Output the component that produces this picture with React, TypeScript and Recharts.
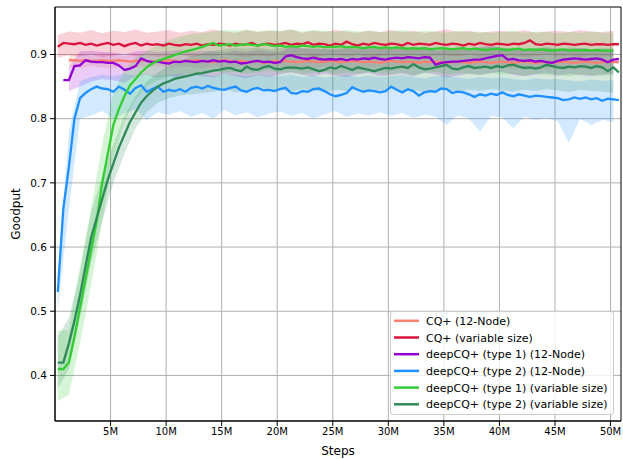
import React from 'react';
import {
  ComposedChart, Line, Area, XAxis, YAxis, CartesianGrid, Legend, ReferenceArea,
} from 'recharts';

// x positions (millions of steps)
const LINE_STEPS = [
  0.25, 0.75, 1.25, 1.75, 2.25, 2.75, 3.25, 3.75, 4.25, 4.75,
  5.25, 5.75, 6.25, 6.75, 7.25, 7.75, 8.25, 8.75, 9.25, 9.75,
  10.25, 10.75, 11.25, 11.75, 12.25, 12.75, 13.25, 13.75, 14.25, 14.75,
  15.25, 15.75, 16.25, 16.75, 17.25, 17.75, 18.25, 18.75, 19.25, 19.75,
  20.25, 20.75, 21.25, 21.75, 22.25, 22.75, 23.25, 23.75, 24.25, 24.75,
  25.25, 25.75, 26.25, 26.75, 27.25, 27.75, 28.25, 28.75, 29.25, 29.75,
  30.25, 30.75, 31.25, 31.75, 32.25, 32.75, 33.25, 33.75, 34.25, 34.75,
  35.25, 35.75, 36.25, 36.75, 37.25, 37.75, 38.25, 38.75, 39.25, 39.75,
  40.25, 40.75, 41.25, 41.75, 42.25, 42.75, 43.25, 43.75, 44.25, 44.75,
  45.25, 45.75, 46.25, 46.75, 47.25, 47.75, 48.25, 48.75, 49.25, 49.75,
  50.25, 50.75,
];

const BAND_STEPS = [
  0.25, 1.25, 2.25, 3.25, 4.25, 5.25, 6.25, 7.25, 8.25, 9.25,
  10.25, 11.25, 12.25, 13.25, 14.25, 15.25, 16.25, 17.25, 18.25, 19.25,
  20.25, 21.25, 22.25, 23.25, 24.25, 25.25, 26.25, 27.25, 28.25, 29.25,
  30.25, 31.25, 32.25, 33.25, 34.25, 35.25, 36.25, 37.25, 38.25, 39.25,
  40.25, 41.25, 42.25, 43.25, 44.25, 45.25, 46.25, 47.25, 48.25, 49.25,
  50.25,
];

const X_TICKS = [5, 10, 15, 20, 25, 30, 35, 40, 45, 50];
const Y_TICKS = [0.4, 0.5, 0.6, 0.7, 0.8, 0.9];

// mean curves
const CQ_NODE = [
  null, null, 0.891, 0.891, 0.890, 0.891, 0.890, 0.890, 0.891, 0.890,
  0.890, 0.891, 0.890, 0.889, 0.890, 0.891, 0.890, 0.889, 0.890, 0.890,
  0.891, 0.890, 0.889, 0.890, 0.890, 0.891, 0.890, 0.889, 0.888, 0.890,
  0.891, 0.890, 0.889, 0.890, 0.888, 0.889, 0.890, 0.887, 0.888, 0.890,
  0.889, 0.890, 0.889, 0.888, 0.889, 0.890, 0.889, 0.888, 0.889, 0.890,
  0.889, 0.888, 0.889, 0.890, 0.889, 0.888, 0.889, 0.888, 0.887, 0.889,
  0.890, 0.889, 0.888, 0.889, 0.888, 0.887, 0.889, 0.888, 0.889, 0.888,
  0.887, 0.888, 0.889, 0.888, 0.887, 0.888, 0.889, 0.888, 0.887, 0.888,
  0.889, 0.888, 0.887, 0.888, 0.889, 0.888, 0.887, 0.888, 0.888, 0.887,
  0.888, 0.889, 0.888, 0.887, 0.888, 0.889, 0.888, 0.887, 0.888, 0.889,
  0.888, 0.888,
];

const CQ_VAR = [
  0.912, 0.918, 0.917, 0.916, 0.918, 0.915, 0.917, 0.914, 0.916, 0.918,
  0.915, 0.917, 0.913, 0.916, 0.918, 0.914, 0.917, 0.915, 0.916, 0.914,
  0.917, 0.915, 0.914, 0.916, 0.915, 0.917, 0.914, 0.916, 0.915, 0.917,
  0.916, 0.914, 0.917, 0.915, 0.916, 0.918, 0.914, 0.916, 0.917, 0.915,
  0.916, 0.918, 0.915, 0.917, 0.916, 0.919, 0.915, 0.917, 0.916, 0.914,
  0.917, 0.915, 0.920, 0.916, 0.914, 0.917, 0.915, 0.918, 0.916, 0.915,
  0.917, 0.916, 0.914, 0.918, 0.915, 0.917, 0.916, 0.915, 0.918, 0.916,
  0.915, 0.917, 0.916, 0.914, 0.917, 0.915, 0.918, 0.916, 0.915, 0.917,
  0.916, 0.915, 0.917, 0.916, 0.918, 0.922, 0.916, 0.915, 0.917, 0.916,
  0.915, 0.917, 0.916, 0.915, 0.916, 0.917, 0.915, 0.916, 0.916, 0.915,
  0.916, 0.916,
];

const DEEP_T1_NODE = [
  null, 0.860, 0.860, 0.882, 0.883, 0.891, 0.889, 0.888, 0.888, 0.887,
  0.887, 0.883, 0.876, 0.878, 0.882, 0.894, 0.890, 0.888, 0.889, 0.887,
  0.886, 0.889, 0.888, 0.890, 0.889, 0.888, 0.890, 0.889, 0.891, 0.889,
  0.890, 0.888, 0.889, 0.886, 0.887, 0.889, 0.890, 0.888, 0.889, 0.887,
  0.888, 0.897, 0.899, 0.896, 0.894, 0.893, 0.895, 0.893, 0.892, 0.893,
  0.892, 0.893, 0.891, 0.893, 0.892, 0.894, 0.893, 0.895, 0.893, 0.892,
  0.894, 0.895, 0.894, 0.896, 0.895, 0.894, 0.896, 0.895, 0.884, 0.887,
  0.888, 0.889, 0.889, 0.890, 0.891, 0.892, 0.892, 0.894, 0.896, 0.898,
  0.899, 0.892, 0.893, 0.891, 0.890, 0.891, 0.889, 0.890, 0.888, 0.887,
  0.890, 0.892, 0.893, 0.894, 0.893, 0.892, 0.893, 0.894, 0.892, 0.888,
  0.892, 0.893,
];

const DEEP_T2_NODE = [
  0.530, 0.660, 0.725, 0.800, 0.832, 0.840, 0.846, 0.850, 0.847, 0.846,
  0.842, 0.850, 0.845, 0.839, 0.848, 0.852, 0.842, 0.846, 0.850, 0.842,
  0.845, 0.843, 0.846, 0.842, 0.848, 0.850, 0.847, 0.851, 0.848, 0.846,
  0.845, 0.848, 0.850, 0.844, 0.842, 0.846, 0.848, 0.844, 0.845, 0.843,
  0.846, 0.848, 0.840, 0.839, 0.843, 0.842, 0.846, 0.847, 0.843, 0.838,
  0.835, 0.837, 0.840, 0.849, 0.845, 0.842, 0.844, 0.843, 0.841, 0.843,
  0.850, 0.845, 0.841, 0.846, 0.843, 0.836, 0.841, 0.843, 0.842, 0.847,
  0.846, 0.840, 0.842, 0.841, 0.838, 0.834, 0.838, 0.836, 0.839, 0.837,
  0.841, 0.837, 0.835, 0.838, 0.836, 0.834, 0.836, 0.835, 0.834, 0.833,
  0.832, 0.829, 0.830, 0.833, 0.831, 0.833, 0.830, 0.832, 0.828, 0.831,
  0.830, 0.829,
];

const DEEP_T1_VAR = [
  0.410, 0.410, 0.420, 0.460, 0.505, 0.550, 0.595, 0.640, 0.700, 0.745,
  0.790, 0.815, 0.835, 0.852, 0.862, 0.872, 0.880, 0.886, 0.890, 0.893,
  0.896, 0.899, 0.902, 0.905, 0.907, 0.909, 0.912, 0.915, 0.918, 0.914,
  0.915, 0.916, 0.914, 0.915, 0.916, 0.915, 0.914, 0.916, 0.915, 0.913,
  0.914, 0.912, 0.913, 0.912, 0.914, 0.913, 0.912, 0.913, 0.911, 0.912,
  0.912, 0.913, 0.911, 0.912, 0.911, 0.910, 0.911, 0.912, 0.910, 0.911,
  0.910, 0.911, 0.910, 0.909, 0.910, 0.909, 0.910, 0.908, 0.909, 0.910,
  0.909, 0.908, 0.909, 0.910, 0.908, 0.909, 0.908, 0.907, 0.908, 0.909,
  0.908, 0.907, 0.908, 0.909, 0.907, 0.908, 0.907, 0.908, 0.907, 0.906,
  0.907, 0.908, 0.906, 0.907, 0.906, 0.907, 0.906, 0.907, 0.906, 0.906,
  0.906, null,
];

const DEEP_T2_VAR = [
  0.420, 0.420, 0.450, 0.485, 0.525, 0.570, 0.615, 0.645, 0.675, 0.705,
  0.730, 0.755, 0.775, 0.795, 0.810, 0.825, 0.835, 0.843, 0.850, 0.855,
  0.858, 0.862, 0.864, 0.866, 0.868, 0.870, 0.871, 0.873, 0.875, 0.876,
  0.878, 0.879, 0.876, 0.874, 0.881, 0.877, 0.876, 0.880, 0.882, 0.878,
  0.877, 0.879, 0.880, 0.879, 0.878, 0.880, 0.877, 0.874, 0.876, 0.880,
  0.878, 0.882, 0.879, 0.876, 0.880, 0.878, 0.876, 0.874, 0.877, 0.879,
  0.878, 0.880, 0.881, 0.879, 0.885, 0.880, 0.877, 0.878, 0.880, 0.882,
  0.884, 0.878, 0.877, 0.880, 0.882, 0.879, 0.880, 0.881, 0.879, 0.882,
  0.880, 0.883, 0.884, 0.881, 0.879, 0.880, 0.878, 0.880, 0.884, 0.882,
  0.880, 0.879, 0.881, 0.880, 0.882, 0.881, 0.879, 0.882, 0.880, 0.874,
  0.880, 0.872,
];

// spread bands (low / high)
const CQ_NODE_LO = [
  null, 0.881, 0.879, 0.882, 0.880, 0.878, 0.881, 0.879, 0.880, 0.882,
  0.879, 0.881, 0.880, 0.878, 0.881, 0.879, 0.880, 0.882, 0.878, 0.880,
  0.881, 0.879, 0.880, 0.878, 0.881, 0.880, 0.879, 0.881, 0.878, 0.880,
  0.879, 0.881, 0.880, 0.878, 0.880, 0.879, 0.881, 0.878, 0.880, 0.879,
  0.880, 0.878, 0.879, 0.881, 0.878, 0.880, 0.879, 0.878, 0.880, 0.879, 0.879,
];
const CQ_NODE_HI = [
  null, 0.900, 0.901, 0.899, 0.902, 0.900, 0.898, 0.901, 0.899, 0.900,
  0.901, 0.899, 0.902, 0.900, 0.898, 0.901, 0.900, 0.899, 0.902, 0.900,
  0.899, 0.901, 0.900, 0.902, 0.899, 0.900, 0.901, 0.898, 0.900, 0.901,
  0.900, 0.899, 0.901, 0.900, 0.898, 0.900, 0.901, 0.899, 0.900, 0.898,
  0.899, 0.900, 0.898, 0.901, 0.899, 0.898, 0.900, 0.899, 0.898, 0.899, 0.899,
];
const CQ_VAR_LO = [
  0.895, 0.899, 0.897, 0.900, 0.896, 0.898, 0.901, 0.897, 0.899, 0.896,
  0.898, 0.900, 0.896, 0.899, 0.897, 0.901, 0.898, 0.896, 0.899, 0.897,
  0.900, 0.897, 0.899, 0.896, 0.898, 0.900, 0.897, 0.899, 0.896, 0.898,
  0.899, 0.897, 0.900, 0.896, 0.898, 0.899, 0.897, 0.900, 0.896, 0.898,
  0.897, 0.899, 0.896, 0.898, 0.900, 0.897, 0.899, 0.896, 0.898, 0.897, 0.898,
];
const CQ_VAR_HI = [
  0.930, 0.936, 0.934, 0.938, 0.933, 0.937, 0.935, 0.939, 0.934, 0.936,
  0.938, 0.934, 0.937, 0.935, 0.939, 0.936, 0.934, 0.938, 0.935, 0.937,
  0.936, 0.939, 0.934, 0.937, 0.935, 0.938, 0.936, 0.934, 0.937, 0.935,
  0.938, 0.935, 0.937, 0.934, 0.936, 0.939, 0.935, 0.937, 0.934, 0.936,
  0.937, 0.935, 0.938, 0.934, 0.936, 0.937, 0.935, 0.938, 0.936, 0.935, 0.937,
];
const DEEP_T1_NODE_LO = [
  null, 0.843, 0.850, 0.858, 0.862, 0.860, 0.856, 0.866, 0.868, 0.864,
  0.867, 0.862, 0.869, 0.866, 0.864, 0.870, 0.866, 0.863, 0.868, 0.865,
  0.869, 0.872, 0.868, 0.866, 0.870, 0.867, 0.865, 0.869, 0.871, 0.866,
  0.868, 0.870, 0.866, 0.872, 0.869, 0.864, 0.867, 0.870, 0.868, 0.871,
  0.873, 0.868, 0.866, 0.869, 0.871, 0.867, 0.870, 0.868, 0.866, 0.869, 0.870,
];
const DEEP_T1_NODE_HI = [
  null, 0.880, 0.905, 0.906, 0.904, 0.903, 0.900, 0.905, 0.906, 0.904,
  0.905, 0.907, 0.904, 0.906, 0.905, 0.903, 0.906, 0.904, 0.907, 0.905,
  0.904, 0.912, 0.910, 0.908, 0.909, 0.907, 0.910, 0.908, 0.909, 0.911,
  0.909, 0.910, 0.908, 0.911, 0.906, 0.907, 0.908, 0.910, 0.912, 0.914,
  0.911, 0.908, 0.907, 0.909, 0.910, 0.908, 0.909, 0.910, 0.908, 0.907, 0.909,
];
const DEEP_T2_NODE_LO = [
  0.500, 0.660, 0.800, 0.805, 0.812, 0.800, 0.808, 0.815, 0.798, 0.810,
  0.806, 0.812, 0.803, 0.809, 0.800, 0.814, 0.805, 0.810, 0.802, 0.808,
  0.811, 0.804, 0.809, 0.800, 0.807, 0.812, 0.803, 0.808, 0.805, 0.810,
  0.804, 0.809, 0.801, 0.806, 0.803, 0.790, 0.805, 0.800, 0.780, 0.804,
  0.802, 0.785, 0.803, 0.798, 0.801, 0.796, 0.762, 0.800, 0.790, 0.798, 0.795,
];
const DEEP_T2_NODE_HI = [
  0.560, 0.780, 0.858, 0.865, 0.868, 0.866, 0.870, 0.867, 0.869, 0.866,
  0.868, 0.870, 0.867, 0.869, 0.866, 0.870, 0.868, 0.866, 0.869, 0.867,
  0.866, 0.869, 0.865, 0.867, 0.864, 0.866, 0.868, 0.865, 0.867, 0.864,
  0.866, 0.868, 0.865, 0.863, 0.866, 0.867, 0.864, 0.862, 0.865, 0.863,
  0.864, 0.862, 0.860, 0.863, 0.861, 0.862, 0.860, 0.858, 0.861, 0.859, 0.860,
];
const DEEP_T1_VAR_LO = [
  0.360, 0.370, 0.450, 0.540, 0.640, 0.740, 0.795, 0.830, 0.850, 0.860,
  0.865, 0.868, 0.870, 0.872, 0.874, 0.871, 0.873, 0.870, 0.872, 0.875,
  0.871, 0.873, 0.870, 0.872, 0.874, 0.869, 0.872, 0.870, 0.873, 0.871,
  0.870, 0.872, 0.868, 0.871, 0.873, 0.869, 0.871, 0.870, 0.868, 0.871,
  0.869, 0.870, 0.867, 0.870, 0.868, 0.869, 0.866, 0.869, 0.868, 0.867, 0.868,
];
const DEEP_T1_VAR_HI = [
  0.470, 0.470, 0.570, 0.660, 0.760, 0.840, 0.875, 0.895, 0.905, 0.915,
  0.922, 0.928, 0.932, 0.934, 0.936, 0.938, 0.937, 0.939, 0.936, 0.938,
  0.937, 0.939, 0.936, 0.938, 0.937, 0.935, 0.938, 0.936, 0.937, 0.935,
  0.936, 0.938, 0.935, 0.937, 0.936, 0.934, 0.937, 0.935, 0.936, 0.934,
  0.935, 0.937, 0.934, 0.936, 0.935, 0.933, 0.935, 0.934, 0.936, 0.934, 0.934,
];
const DEEP_T2_VAR_LO = [
  0.380, 0.410, 0.490, 0.575, 0.640, 0.700, 0.745, 0.785, 0.810, 0.825,
  0.832, 0.836, 0.838, 0.840, 0.842, 0.845, 0.841, 0.844, 0.846, 0.843,
  0.845, 0.842, 0.846, 0.844, 0.841, 0.845, 0.843, 0.846, 0.842, 0.844,
  0.846, 0.843, 0.845, 0.841, 0.844, 0.846, 0.842, 0.845, 0.843, 0.846,
  0.844, 0.842, 0.845, 0.843, 0.846, 0.844, 0.841, 0.845, 0.843, 0.842, 0.840,
];
const DEEP_T2_VAR_HI = [
  0.460, 0.490, 0.560, 0.655, 0.710, 0.760, 0.805, 0.835, 0.858, 0.872,
  0.882, 0.890, 0.897, 0.902, 0.906, 0.908, 0.910, 0.909, 0.911, 0.908,
  0.910, 0.912, 0.909, 0.911, 0.908, 0.910, 0.912, 0.909, 0.911, 0.910,
  0.908, 0.911, 0.909, 0.912, 0.910, 0.908, 0.911, 0.909, 0.910, 0.912,
  0.909, 0.911, 0.908, 0.910, 0.912, 0.909, 0.911, 0.910, 0.908, 0.910, 0.909,
];

const SERIES = [
  { name: 'CQ+ (12-Node)', color: '#FA8072', mean: CQ_NODE, lo: CQ_NODE_LO, hi: CQ_NODE_HI },
  { name: 'CQ+ (variable size)', color: '#DC143C', mean: CQ_VAR, lo: CQ_VAR_LO, hi: CQ_VAR_HI },
  { name: 'deepCQ+ (type 1) (12-Node)', color: '#9400D3', mean: DEEP_T1_NODE, lo: DEEP_T1_NODE_LO, hi: DEEP_T1_NODE_HI },
  { name: 'deepCQ+ (type 2) (12-Node)', color: '#1E90FF', mean: DEEP_T2_NODE, lo: DEEP_T2_NODE_LO, hi: DEEP_T2_NODE_HI },
  { name: 'deepCQ+ (type 1) (variable size)', color: '#32CD32', mean: DEEP_T1_VAR, lo: DEEP_T1_VAR_LO, hi: DEEP_T1_VAR_HI },
  { name: 'deepCQ+ (type 2) (variable size)', color: '#2E8B57', mean: DEEP_T2_VAR, lo: DEEP_T2_VAR_LO, hi: DEEP_T2_VAR_HI },
];

const X_MIN = 0;
const X_MAX = 50.94;
const Y_MIN = 0.329;
const Y_MAX = 0.974;

const FONT = 'DejaVu Sans, sans-serif';

const lineData = (vals: (number | null)[]) =>
  LINE_STEPS.map((x, i) => ({ x, v: vals[i] })).filter((d) => d.v != null);

const bandData = (lo: (number | null)[], hi: (number | null)[]) =>
  BAND_STEPS.map((x, i) => ({ x, r: [lo[i], hi[i]] })).filter((d) => d.r[0] != null && d.r[1] != null);

const renderLegend = () => (
  <svg width={225} height={105} style={{ display: 'block' }}>
    <rect x={0.5} y={0.5} width={223} height={103} rx={2.5} fill="#fff" fillOpacity={0.8} stroke="#cccccc" strokeWidth={1} />
    {SERIES.map((s, i) => {
      const cy = 9.8 + i * 16.7;
      return (
        <g key={s.name}>
          <line x1={4} x2={29} y1={cy} y2={cy} stroke={s.color} strokeWidth={2.5} />
          <text x={36} y={cy + 4} fontSize={11} fontFamily={FONT} fill="#000">{s.name}</text>
        </g>
      );
    })}
  </svg>
);

export default function App() {
  return (
    <div style={{ position: 'absolute', left: 0, top: 0, width: 623, height: 459, background: '#fff' }}>
      <ComposedChart width={623} height={459} margin={{ top: 7, right: 2, bottom: 0, left: 0 }}>
        <CartesianGrid stroke="#b0b0b0" strokeWidth={1} horizontalValues={Y_TICKS} verticalValues={X_TICKS} />
        <XAxis
          type="number"
          dataKey="x"
          domain={[X_MIN, X_MAX]}
          ticks={X_TICKS}
          allowDataOverflow
          tickFormatter={(v: number) => `${v}M`}
          height={38}
          tickSize={5}
          tickMargin={2}
          stroke="#000"
          tick={{ fontSize: 10, fontFamily: FONT, fill: '#000' }}
          label={{ value: 'Steps', position: 'insideBottom', offset: 4, style: { fontSize: 12, fontFamily: FONT, fill: '#000' } }}
        />
        <YAxis
          type="number"
          domain={[Y_MIN, Y_MAX]}
          ticks={Y_TICKS}
          allowDataOverflow
          tickFormatter={(v: number) => v.toFixed(1)}
          width={55}
          tickSize={5}
          tickMargin={3}
          stroke="#000"
          tick={{ fontSize: 10.5, fontFamily: FONT, fill: '#000' }}
          label={{ value: 'Goodput', angle: -90, position: 'insideLeft', offset: 16, style: { fontSize: 12, fontFamily: FONT, fill: '#000', textAnchor: 'middle' } }}
        />
        {SERIES.map((s) => (
          <Area
            key={'band-' + s.name}
            data={bandData(s.lo, s.hi)}
            dataKey="r"
            type="linear"
            stroke="none"
            fill={s.color}
            fillOpacity={0.2}
            isAnimationActive={false}
            legendType="none"
            activeDot={false}
          />
        ))}
        {SERIES.map((s) => (
          <Line
            key={'line-' + s.name}
            data={lineData(s.mean)}
            dataKey="v"
            name={s.name}
            type="linear"
            stroke={s.color}
            strokeWidth={2.3}
            dot={false}
            activeDot={false}
            isAnimationActive={false}
          />
        ))}
        <ReferenceArea x1={X_MIN} x2={X_MAX} y1={Y_MIN} y2={Y_MAX} fill="none" stroke="#000" strokeWidth={1} fillOpacity={0} />
        <Legend
          layout="horizontal"
          align="center"
          verticalAlign="middle"
          content={renderLegend}
          wrapperStyle={{ left: 390, top: 311, width: 225, height: 105 }}
        />
      </ComposedChart>
    </div>
  );
}
